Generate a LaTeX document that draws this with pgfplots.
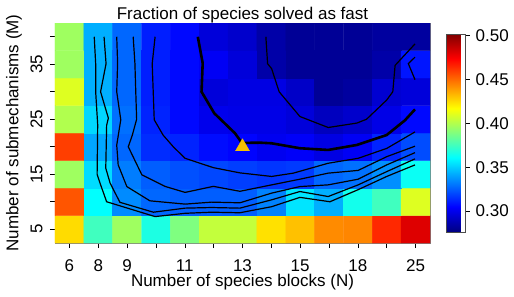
\documentclass[border=0pt]{standalone}
\usepackage{fontspec}
\setmainfont{Liberation Sans}
\usepackage{pgfplots}
\pgfplotsset{compat=1.18}
\definecolor{tri}{RGB}{245,192,0}
\begin{document}
\fontsize{17bp}{20bp}\selectfont
\begin{tikzpicture}
\useasboundingbox (-55bp,-54bp) rectangle (459bp,243bp);
\begin{axis}[
  at={(0,0)}, anchor=south west,
  scale only axis, width=375bp, height=220bp,
  xmin=-0.5, xmax=12.5, ymin=2.5, ymax=42.5,
  xtick={0,...,12}, xticklabels={6,8,9,,11,,13,,15,,18,,25},
  ytick={5,10,...,40}, yticklabels={5,,15,,25,,35,},
  xtick pos=left, ytick pos=left,
  tick align=outside, major tick length=5bp,
  tick style={black, line width=0.6bp},
  axis line style={draw=black!50, line width=0.8bp},
  /pgf/number format/assume math mode=true,
  xticklabel style={anchor=base, yshift=-23.2bp},
  yticklabel style={xshift=-7.5bp, rotate=90, anchor=base},
  every axis title/.style={at={(axis description cs:0.5,1)}, anchor=base, yshift=4bp},
  every axis x label/.style={at={(axis description cs:0.5,0)}, anchor=base, yshift=-43.5bp},
  every axis y label/.style={at={(axis description cs:0,0.5)}, xshift=-36.7bp, rotate=90, anchor=base},
  title={Fraction of species solved as fast},
  xlabel={Number of species blocks (N)},
  ylabel={Number of submechanisms (M)},
  colormap={myjet}{rgb255(0cm)=(0,0,128); rgb255(1cm)=(0,0,255); rgb255(3cm)=(0,255,255); rgb255(5cm)=(255,255,0); rgb255(7cm)=(255,0,0); rgb255(8cm)=(128,0,0)},
  point meta min=0.276, point meta max=0.502,
  colorbar,
  colorbar style={
    at={(parent axis.north east)}, anchor=north west,
    xshift=8bp, yshift=-11bp,
    scale only axis, width=19bp, height=198bp,
    ytick={0.30,0.35,0.40,0.45,0.50},
    ytick pos=right, yticklabel pos=right,
    tick align=outside, major tick length=4bp,
    tick style={black, line width=0.6bp},
    axis line style={draw=black!70, line width=0.6bp},
    scaled y ticks=false,
    yticklabel style={/pgf/number format/.cd, fixed, fixed zerofill, precision=2, assume math mode=true, /tikz/.cd, anchor=west, inner sep=0pt, xshift=6bp},
  },
]
\addplot[matrix plot*, mesh/cols=13, point meta=explicit] table[meta=c] {
x y c
0 5 0.425
1 5 0.375
2 5 0.396
3 5 0.367
4 5 0.389
5 5 0.404
6 5 0.404
7 5 0.424
8 5 0.431
9 5 0.443
10 5 0.444
11 5 0.465
12 5 0.481
0 10 0.455
1 10 0.361
2 10 0.335
3 10 0.327
4 10 0.325
5 10 0.325
6 10 0.325
7 10 0.333
8 10 0.355
9 10 0.343
10 10 0.365
11 10 0.375
12 10 0.410
0 15 0.396
1 15 0.353
2 15 0.332
3 15 0.325
4 15 0.322
5 15 0.320
6 15 0.318
7 15 0.316
8 15 0.317
9 15 0.327
10 15 0.329
11 15 0.336
12 15 0.363
0 20 0.460
1 20 0.341
2 20 0.327
3 20 0.314
4 20 0.312
5 20 0.307
6 20 0.305
7 20 0.301
8 20 0.303
9 20 0.298
10 20 0.302
11 20 0.312
12 20 0.321
0 25 0.400
1 25 0.352
2 25 0.329
3 25 0.312
4 25 0.306
5 25 0.300
6 25 0.299
7 25 0.299
8 25 0.296
9 25 0.290
10 25 0.293
11 25 0.299
12 25 0.306
0 30 0.410
1 30 0.343
2 30 0.327
3 30 0.311
4 30 0.306
5 30 0.296
6 30 0.298
7 30 0.298
8 30 0.292
9 30 0.281
10 30 0.283
11 30 0.294
12 30 0.296
0 35 0.396
1 35 0.343
2 35 0.327
3 35 0.311
4 35 0.306
5 35 0.302
6 35 0.296
7 35 0.285
8 35 0.281
9 35 0.281
10 35 0.281
11 35 0.285
12 35 0.309
0 40 0.396
1 40 0.343
2 40 0.327
3 40 0.311
4 40 0.306
5 40 0.296
6 40 0.293
7 40 0.285
8 40 0.281
9 40 0.281
10 40 0.281
11 40 0.283
12 40 0.283
};
% contour a
\addplot[black, line width=1.2bp, no marks] coordinates {(0.86,40) (0.91,35.1) (0.91,30) (0.98,24) (0.96,15) (1.06,13.4) (1.29,10) (2.97,7.3) (4.01,7.9) (4.93,8.1) (5.91,8.0) (7.01,9.1) (7.99,10.8) (9.03,10.0) (10.01,12.2) (11.0,14.6) (11.98,16.7)};
% contour b
\addplot[black, line width=1.2bp, no marks] coordinates {(1.20,40) (1.27,35.1) (1.08,30) (1.35,25.2) (1.29,23.9) (1.26,16.1) (1.41,13.4) (1.75,9.9) (2.91,8.1) (4.01,8.84) (4.93,8.95) (5.91,8.84) (7.01,10.35) (7.99,11.86) (8.97,10.95) (10.01,13.07) (11.0,15.48) (11.98,17.8)};
% contour c
\addplot[black, line width=1.2bp, no marks] coordinates {(1.64,40) (1.67,35.2) (1.64,30) (1.78,24.9) (1.64,20.3) (1.69,16.7) (1.99,12.76) (2.79,10.17) (4.01,9.57) (4.93,9.93) (5.91,9.81) (7.01,11.57) (7.99,12.76) (8.97,13.07) (10.01,14.1) (11.0,16.7) (11.98,18.93)};
% contour d
\addplot[black, line width=1.2bp, no marks] coordinates {(2.21,40) (2.27,35.2) (2.30,30) (2.33,25) (2.18,22.1) (2.04,20) (2.51,14.9) (3.31,12.8) (4.01,11.7) (4.99,12.8) (5.91,11.9) (7.01,13.07) (7.99,14.1) (8.97,15.2) (10.01,15.7) (11.0,18.2) (11.98,20.1)};
% contour e
\addplot[black, line width=1.2bp, no marks] coordinates {(2.97,40) (2.87,35.1) (2.94,24.9) (3.25,22.1) (3.60,20.0) (4.01,17.9) (4.99,16.2) (5.91,15.25) (7.01,14.6) (7.76,15.2) (8.97,17.0) (10.01,17.9) (11.0,19.7) (11.98,22.7)};
% thick contour
\addplot[black, line width=2.6bp, no marks] coordinates {(4.45,40) (4.62,35.2) (4.58,30) (5.02,26.1) (5.74,22.45) (5.98,20.7) (6.61,20.74) (7.01,20.63) (7.99,19.73) (8.97,19.42) (9.96,20.32) (11.0,22.14) (11.63,24.8) (11.98,26.8)};
% U contour
\addplot[black, line width=1.2bp, no marks] coordinates {(6.81,40) (6.87,35.1) (7.01,34.2) (7.27,30) (7.99,25.5) (8.97,23.5) (9.96,24.3) (10.30,25.0) (11.0,28.5) (11.21,30) (11.29,34.8) (11.98,38.7)};
% V contour
\addplot[black, line width=1.2bp, no marks] coordinates {(11.98,36.3) (11.75,35.1) (11.98,32.2)};
% marker
\addplot[only marks, mark=triangle*, mark size=8bp, mark options={fill=tri, draw=tri}] coordinates {(6,20)};
\end{axis}
\end{tikzpicture}
\end{document}
